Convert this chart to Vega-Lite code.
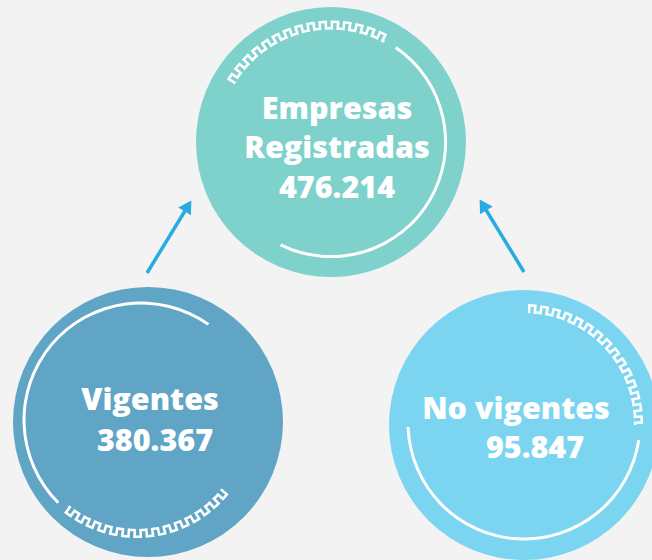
{
  "$schema": "https://vega.github.io/schema/vega-lite/v6.json",
  "width": 652,
  "height": 560,
  "padding": 0,
  "autosize": {"type": "none"},
  "background": "#f3f3f3",
  "config": {
    "view": {"stroke": null},
    "locale": {"number": {"decimal": ",", "thousands": ".", "grouping": [3], "currency": ["$", ""]}},
    "text": {"font": "Open Sans", "fontWeight": 800, "fontSize": 30.5, "fill": "white", "align": "center", "baseline": "alphabetic"}
  },
  "data": {
    "values": [
      {"nombre": "Empresas Registradas", "nivel": "total", "titulo": ["Empresas", "Registradas"], "cantidad": 476214},
      {"nombre": "Vigentes", "nivel": "parte", "titulo": "Vigentes", "cantidad": 380367, "destino": "Empresas Registradas", "nivelDestino": "total"},
      {"nombre": "No vigentes", "nivel": "parte", "titulo": "No vigentes", "cantidad": 95847, "destino": "Empresas Registradas", "nivelDestino": "total"}
    ]
  },
  "encoding": {
    "x": {"field": "nombre", "type": "nominal", "scale": {"type": "point", "domain": ["Vigentes", "Empresas Registradas", "No vigentes"], "range": [148, 524], "padding": 0}, "axis": null, "legend": null},
    "y": {"field": "nivel", "type": "nominal", "scale": {"type": "point", "domain": ["total", "parte"], "range": [142, 422], "padding": 0}, "axis": null}
  },
  "layer": [
    {
      "transform": [{"filter": "datum.nombre === 'Empresas Registradas'"}],
      "layer": [
        {"mark": {"type": "arc", "fill": "#7fd1cc", "xOffset": -5},
         "encoding": {"theta": {"value": 0}, "theta2": {"value": 6.2832}, "radius": {"value": 135}, "radius2": {"value": 0}}},
        {"mark": {"type": "arc", "fill": "white", "xOffset": -5},
         "encoding": {"theta": {"value": 0.6004}, "theta2": {"value": 3.5971}, "radius": {"value": 116.1}, "radius2": {"value": 113.1}}},
        {"mark": {"type": "arc", "fill": "white", "xOffset": -5},
         "encoding": {"theta": {"value": -1.0297}, "theta2": {"value": 0.4887}, "radius": {"value": 115}, "radius2": {"value": 112.5}}},
        {"mark": {"type": "arc", "filled": false, "stroke": "white", "strokeWidth": 9, "xOffset": -5,
                  "strokeDash": [8.5,3.5,8.5,3.5,8.5,3.5,8.5,3.5,8.5,3.5,8.5,3.5,8.5,3.5,8.5,3.5,8.5,3.5,8.5,3.5,8.5,3.5,8.5,3.5,8.5,3.5,8.5,3.5,8.5,1000]},
         "encoding": {"theta": {"value": -1.0297}, "theta2": {"value": 0.4887}, "radius": {"value": 117}, "radius2": {"value": 0}}},
        {"mark": {"type": "arc", "filled": false, "stroke": "#7fd1cc", "strokeWidth": 7, "xOffset": -5,
                  "strokeDash": [0,2.47,3.45,8.39,3.45,8.39,3.45,8.39,3.45,8.39,3.45,8.39,3.45,8.39,3.45,8.39,3.45,8.39,3.45,8.39,3.45,8.39,3.45,8.39,3.45,8.39,3.45,8.39,3.45,8.39,3.45,1000]},
         "encoding": {"theta": {"value": -1.0297}, "theta2": {"value": 0.4887}, "radius": {"value": 115.5}, "radius2": {"value": 0}}},
        {"mark": {"type": "text", "dx": 1, "dy": -23, "lineHeight": 39},
         "encoding": {"text": {"field": "titulo", "type": "nominal"}}},
        {"mark": {"type": "text", "dx": 1, "dy": 56},
         "encoding": {"text": {"field": "cantidad", "type": "quantitative", "format": ",d"}}}
      ]
    },
    {
      "transform": [{"filter": "datum.nombre === 'Vigentes'"}],
      "layer": [
        {"mark": {"type": "rule", "stroke": "#29abe2", "strokeWidth": 3.5, "xOffset": -1, "yOffset": -149, "x2Offset": -148, "y2Offset": 64},
         "encoding": {"x2": {"field": "destino"}, "y2": {"field": "nivelDestino"}}},
        {"mark": {"type": "point", "shape": "triangle-up", "filled": true, "color": "#29abe2", "opacity": 1, "size": 220, "angle": 31.6, "xOffset": -148, "yOffset": 64},
         "encoding": {"x": {"field": "destino", "type": "nominal"}, "y": {"field": "nivelDestino", "type": "nominal"}}},
        {"mark": {"type": "arc", "fill": "#60a5c6"},
         "encoding": {"theta": {"value": 0}, "theta2": {"value": 6.2832}, "radius": {"value": 135}, "radius2": {"value": 0}}},
        {"mark": {"type": "arc", "fill": "white", "xOffset": -7, "yOffset": -2},
         "encoding": {"theta": {"value": 3.927}, "theta2": {"value": 6.8975}, "radius": {"value": 118.5}, "radius2": {"value": 115.5}}},
        {"mark": {"type": "arc", "fill": "white", "xOffset": -11, "yOffset": -2},
         "encoding": {"theta": {"value": 2.2515}, "theta2": {"value": 3.8135}, "radius": {"value": 111.5}, "radius2": {"value": 109}}},
        {"mark": {"type": "arc", "filled": false, "stroke": "white", "strokeWidth": 9, "xOffset": -11, "yOffset": -2,
                  "strokeDash": [8.5,3.5,8.5,3.5,8.5,3.5,8.5,3.5,8.5,3.5,8.5,3.5,8.5,3.5,8.5,3.5,8.5,3.5,8.5,3.5,8.5,3.5,8.5,3.5,8.5,3.5,8.5,3.5,8.5,1000]},
         "encoding": {"theta": {"value": 2.2515}, "theta2": {"value": 3.8135}, "radius": {"value": 113.5}, "radius2": {"value": 0}}},
        {"mark": {"type": "arc", "filled": false, "stroke": "#60a5c6", "strokeWidth": 7, "xOffset": -11, "yOffset": -2,
                  "strokeDash": [0,2.47,3.45,8.39,3.45,8.39,3.45,8.39,3.45,8.39,3.45,8.39,3.45,8.39,3.45,8.39,3.45,8.39,3.45,8.39,3.45,8.39,3.45,8.39,3.45,8.39,3.45,8.39,3.45,8.39,3.45,1000]},
         "encoding": {"theta": {"value": 2.2515}, "theta2": {"value": 3.8135}, "radius": {"value": 112}, "radius2": {"value": 0}}},
        {"mark": {"type": "text", "dx": 2, "dy": -12},
         "encoding": {"text": {"field": "titulo", "type": "nominal"}}},
        {"mark": {"type": "text", "dx": 7, "dy": 29},
         "encoding": {"text": {"field": "cantidad", "type": "quantitative", "format": ",d"}}}
      ]
    },
    {
      "transform": [{"filter": "datum.nombre === 'No vigentes'"}],
      "layer": [
        {"mark": {"type": "rule", "stroke": "#29abe2", "strokeWidth": 3.5, "xOffset": 0, "yOffset": -150, "x2Offset": 147, "y2Offset": 63},
         "encoding": {"x2": {"field": "destino"}, "y2": {"field": "nivelDestino"}}},
        {"mark": {"type": "point", "shape": "triangle-up", "filled": true, "color": "#29abe2", "opacity": 1, "size": 220, "angle": 328.4, "xOffset": 147, "yOffset": 63},
         "encoding": {"x": {"field": "destino", "type": "nominal"}, "y": {"field": "nivelDestino", "type": "nominal"}}},
        {"mark": {"type": "arc", "fill": "#7bd5f0", "yOffset": 3},
         "encoding": {"theta": {"value": 0}, "theta2": {"value": 6.2832}, "radius": {"value": 135}, "radius2": {"value": 0}}},
        {"mark": {"type": "arc", "fill": "white", "yOffset": 1},
         "encoding": {"theta": {"value": 1.7191}, "theta2": {"value": 4.6775}, "radius": {"value": 117.5}, "radius2": {"value": 114.5}}},
        {"mark": {"type": "arc", "fill": "white", "yOffset": 1},
         "encoding": {"theta": {"value": 0.0349}, "theta2": {"value": 1.5882}, "radius": {"value": 112.5}, "radius2": {"value": 110}}},
        {"mark": {"type": "arc", "filled": false, "stroke": "white", "strokeWidth": 9, "yOffset": 1,
                  "strokeDash": [8.5,3.5,8.5,3.5,8.5,3.5,8.5,3.5,8.5,3.5,8.5,3.5,8.5,3.5,8.5,3.5,8.5,3.5,8.5,3.5,8.5,3.5,8.5,3.5,8.5,3.5,8.5,3.5,8.5,1000]},
         "encoding": {"theta": {"value": 0.0349}, "theta2": {"value": 1.5882}, "radius": {"value": 114.5}, "radius2": {"value": 0}}},
        {"mark": {"type": "arc", "filled": false, "stroke": "#7bd5f0", "strokeWidth": 7, "yOffset": 1,
                  "strokeDash": [0,2.47,3.45,8.39,3.45,8.39,3.45,8.39,3.45,8.39,3.45,8.39,3.45,8.39,3.45,8.39,3.45,8.39,3.45,8.39,3.45,8.39,3.45,8.39,3.45,8.39,3.45,8.39,3.45,8.39,3.45,1000]},
         "encoding": {"theta": {"value": 0.0349}, "theta2": {"value": 1.5882}, "radius": {"value": 113}, "radius2": {"value": 0}}},
        {"mark": {"type": "text", "dx": -8, "dy": -3},
         "encoding": {"text": {"field": "titulo", "type": "nominal"}}},
        {"mark": {"type": "text", "dx": 11, "dy": 36},
         "encoding": {"text": {"field": "cantidad", "type": "quantitative", "format": ",d"}}}
      ]
    }
  ]
}
